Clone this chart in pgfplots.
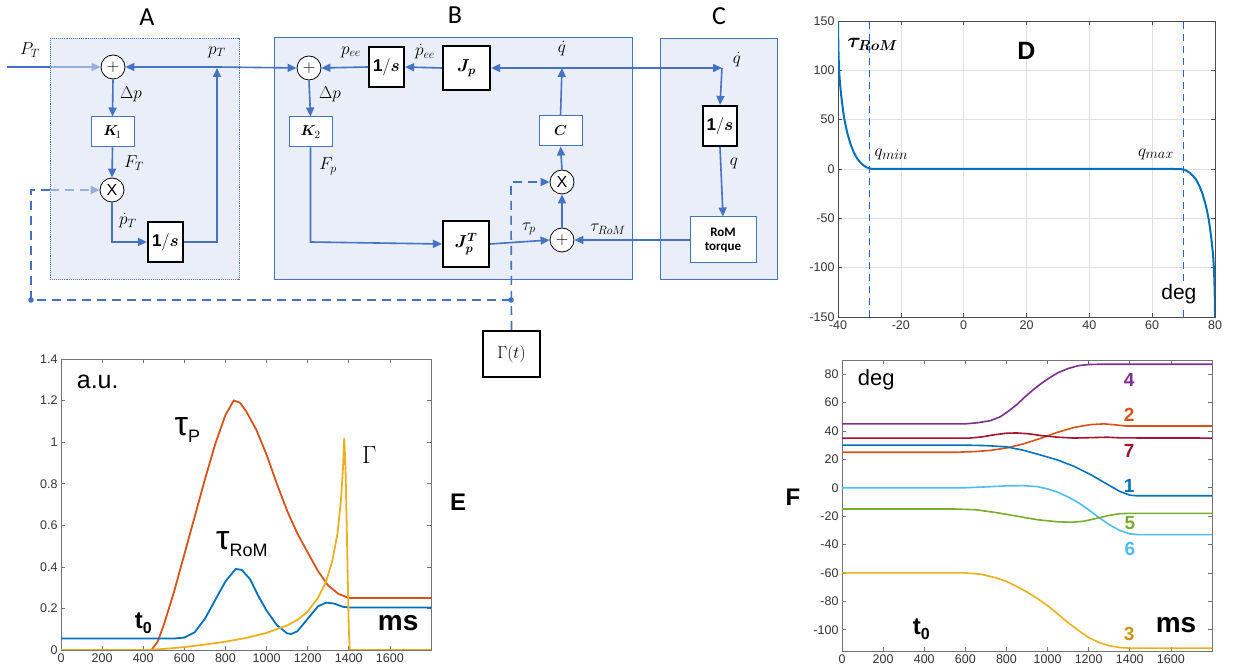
\documentclass[border=0pt]{standalone}
\usepackage{amsmath}
\usepackage{bm}
\usepackage{fontspec}
\setmainfont{Liberation Sans}
\newfontfamily\calib{Carlito}
\usepackage{pgfplots}
\pgfplotsset{compat=1.18}
\usetikzlibrary{arrows.meta}

\newcommand{\fs}[1]{\fontsize{#1}{#1}\selectfont}

\definecolor{dblue}{RGB}{68,114,196}
\definecolor{lblue}{RGB}{150,175,225}
\definecolor{bfill}{RGB}{233,238,248}
\definecolor{mblue}{RGB}{0,114,189}
\definecolor{mred}{RGB}{217,83,25}
\definecolor{myel}{RGB}{237,177,32}
\definecolor{mgold}{RGB}{205,145,20}
\definecolor{mpur}{RGB}{126,47,142}
\definecolor{mgrn}{RGB}{119,172,48}
\definecolor{mcyan}{RGB}{77,190,238}
\definecolor{mdred}{RGB}{162,20,47}
\definecolor{dashblue}{RGB}{40,95,235}

\pgfplotsset{
  mstyle/.style={
    scale only axis, anchor=south west,
    tick align=inside,
    axis line style={black!55, line width=0.6pt},
    tick style={black!55, line width=0.6pt},
    major tick length=4pt,
    tick label style={font=\fs{12.5}, text=black!80},
    /pgf/number format/assume math mode=true,
    /pgf/number format/1000 sep={},
    every axis plot/.append style={line width=1.8pt},
  }
}

\begin{document}
\begin{tikzpicture}[x=1pt,y=1pt,
  ln/.style={dblue, line width=1.6pt},
  arr/.style={ln, -{Triangle[length=9pt,width=8pt]}},
  sumc/.style={circle, draw=black, fill=white, line width=0.8pt, minimum size=24pt, inner sep=0pt, font=\fs{16}},
  tb/.style={draw=dblue, fill=white, line width=1pt, inner sep=0pt, font=\fs{15}},
  kb/.style={draw=black, fill=white, line width=2.2pt, inner sep=0pt, font=\fs{17}},
  ml/.style={font=\fs{17}, inner sep=1pt},
  dsh/.style={ln, dash pattern=on 9pt off 6pt},
]
\useasboundingbox (0,0) rectangle (1236,671);

% ---------------- block diagram (pixel coordinates, y down)
\begin{scope}[x=1pt, y=-1pt, shift={(0pt,671pt)}]
\fill[bfill] (50,38) rectangle (239,279);
\draw[dblue, densely dotted, line width=0.9pt] (50,38) rectangle (239,279);
\fill[bfill] (274,37) rectangle (632,279);
\draw[dblue, line width=0.9pt] (274,37) rectangle (632,279);
\fill[bfill] (660,38) rectangle (777,279);
\draw[dblue, line width=0.9pt] (660,38) rectangle (777,279);

\node[font=\calib\fs{26}] at (147,17) {A};
\node[font=\calib\fs{26}] at (455,15) {B};
\node[font=\calib\fs{26}] at (719,16) {C};

% nodes
\node[sumc] (sA) at (113,67) {$+$};
\node[sumc] (xA) at (112,190) {X};
\node[sumc] (sB) at (309,68) {$+$};
\node[sumc] (xB) at (562,182) {X};
\node[sumc] (sB2) at (562,240) {$+$};

\node[tb, minimum width=43pt, minimum height=30pt] (K1) at (112.5,132) {$\bm{K}_{\!1}$};
\node[kb, minimum width=35pt, minimum height=40pt] (iA) at (165.5,242) {$\mathbf{1}/\bm{s}$};
\node[tb, minimum width=43pt, minimum height=30pt] (K2) at (310.5,132) {$\bm{K}_{2}$};
\node[kb, minimum width=35pt, minimum height=40pt] (iB) at (386.5,67) {$\mathbf{1}/\bm{s}$};
\node[kb, minimum width=47pt, minimum height=44pt] (Jp) at (466.5,68) {$\bm{J_p}$};
\node[tb, minimum width=43pt, minimum height=30pt] (Cb) at (560.5,131) {$\bm{C}$};
\node[kb, minimum width=46pt, minimum height=46pt] (JpT) at (466,244) {$\bm{J_p}^{\bm{T}}$};
\node[kb, minimum width=34pt, minimum height=40pt] (iC) at (720,126) {$\mathbf{1}/\bm{s}$};
\node[tb, minimum width=66pt, minimum height=46pt, align=center, font=\calib\bfseries\fs{13}] (RoM) at (723,240) {RoM\\[1pt]torque};
\node[kb, minimum width=57pt, minimum height=46pt] (G) at (511.5,354) {$\Gamma(t)$};

% block A
\draw[ln] (7,67) -- (50,67);
\draw[lblue, line width=1.6pt, -{Triangle[length=9pt,width=8pt]}] (50,67) -- (sA.west);
\node[ml] at (30,50) {$P_T$};
\draw[arr] (iA.east) -- (217,242) -- (217,68);
\draw[arr] (217,67) -- (sA.east);
\draw[arr] (217,67) -- (sB.west);
\node[ml] at (217,52) {$p_T$};
\draw[arr] (sA.south) -- (K1.north);
\node[ml] at (131,94) {$\Delta p$};
\draw[arr] (K1.south) -- (xA.north);
\node[ml] at (134,163) {$F_T$};
\draw[arr] (xA.south) |- (iA.west);
\node[ml] at (128,221) {$\dot p_T$};

% gating (dashed)
\draw[dsh] (511,300) -- (31,300) -- (31,190) -- (50,190);
\draw[lblue, line width=1.6pt, dash pattern=on 9pt off 6pt, -{Triangle[length=9pt,width=8pt]}] (50,190) -- (xA.west);
\draw[dsh, -{Triangle[length=9pt,width=8pt]}] (G.north) -- (511,182) -- (xB.west);
\fill[dblue] (31,300) circle (2.8);
\fill[dblue] (511,300) circle (2.8);

% block B
\draw[arr] (Jp.west) -- (iB.east);
\node[ml] at (425,52) {$\dot p_{ee}$};
\draw[arr] (iB.west) -- (sB.east);
\node[ml] at (351,52) {$p_{ee}$};
\draw[arr] (sB.south) -- (K2.north);
\node[ml] at (330,94) {$\Delta p$};
\draw[arr] (K2.south) -- (310.5,242) -- (JpT.west);
\node[ml] at (328,166) {$F_p$};
\draw[arr] (JpT.east) -- (sB2.west);
\node[ml] at (529,229) {$\tau_p$};
\draw[arr] (RoM.west) -- (sB2.east);
\node[ml] at (608,229) {$\tau_{RoM}$};
\draw[arr] (sB2.north) -- (xB.south);
\draw[arr] (xB.north) -- (Cb.south);
\draw[arr] (Cb.north) -- (562,68);
\node[ml] at (562,49) {$\dot q$};
\draw[arr] (562,68) -- (Jp.east);
\draw[arr] (562,68) -- (722,68);

% block C
\draw[arr] (722,68) -- (iC.north);
\node[ml] at (737,60) {$\dot q$};
\draw[arr] (iC.south) -- (RoM.north);
\node[ml] at (734,163) {$q$};
\end{scope}

% ---------------- D : RoM torque
\begin{axis}[mstyle, at={(838pt,354pt)}, width=377pt, height=296pt,
  xmin=-40, xmax=80, ymin=-150, ymax=150,
  xtick={-40,-20,0,20,40,60,80}, ytick={-150,-100,-50,0,50,100,150},
  grid=major, grid style={black!12, line width=0.6pt},
  axis line style={black!70, line width=0.7pt}, tick style={black!70},
]
\addplot[dashblue, line width=1.4pt, dash pattern=on 7pt off 5pt] coordinates {(-30,-150) (-30,150)};
\addplot[dashblue, line width=1.4pt, dash pattern=on 7pt off 5pt] coordinates {(70,-150) (70,150)};
\addplot[mblue, line width=2pt] coordinates {
 (-40,150) (-39.9,125) (-39.7,103) (-39.4,88) (-39,75) (-38.5,62) (-38,51)
 (-37.5,43) (-37,36) (-36,25) (-35,17) (-34,11) (-33,7) (-32,4) (-31,1.8)
 (-30,0.6) (-29,0.1) (-27,0) (67,0) (69,-0.1) (70,-0.6) (71,-1.8) (72,-4)
 (73,-7) (74,-11) (75,-17) (76,-25) (77,-36) (77.5,-43) (78,-51) (78.5,-62)
 (79,-75) (79.4,-88) (79.7,-103) (79.9,-125) (80,-150)};
\node[font=\fs{20}] at (axis cs:-29,126) {$\bm{\tau_{RoM}}$};
\node[font=\bfseries\fs{25}] at (axis cs:20,120) {D};
\node[font=\fs{19}, anchor=west] at (axis cs:-29.5,15) {$q_{min}$};
\node[font=\fs{19}, anchor=east] at (axis cs:68,15) {$q_{max}$};
\node[font=\fs{21}, fill=white, inner sep=0.5pt] at (axis cs:68.5,-127) {deg};
\end{axis}

% ---------------- E : torques and gating
\begin{axis}[mstyle, at={(61pt,21pt)}, width=370pt, height=291pt,
  xmin=0, xmax=1800, ymin=0, ymax=1.4,
  xtick={0,200,400,600,800,1000,1200,1400,1600},
  ytick={0,0.2,0.4,0.6,0.8,1,1.2,1.4},
]
\addplot[mred] coordinates {
 (0,0) (440,0) (470,0.04) (500,0.12) (550,0.28) (600,0.46) (650,0.64)
 (700,0.82) (750,0.99) (800,1.13) (840,1.2) (870,1.19) (900,1.15) (950,1.06)
 (1000,0.94) (1050,0.8) (1100,0.67) (1150,0.56) (1200,0.47) (1250,0.38)
 (1300,0.31) (1350,0.27) (1400,0.25) (1800,0.25)};
\addplot[mblue] coordinates {
 (0,0.055) (550,0.055) (600,0.06) (650,0.085) (700,0.15) (750,0.24) (800,0.33)
 (850,0.39) (880,0.385) (920,0.34) (960,0.26) (1000,0.19) (1050,0.12)
 (1100,0.08) (1120,0.077) (1150,0.09) (1200,0.15) (1250,0.21) (1290,0.228)
 (1330,0.223) (1370,0.208) (1410,0.204) (1800,0.204)};
\addplot[myel] coordinates {
 (0,0) (420,0) (500,0.005) (600,0.014) (700,0.026) (800,0.04) (900,0.058)
 (1000,0.082) (1100,0.118) (1150,0.145) (1200,0.185) (1250,0.25) (1290,0.33)
 (1320,0.43) (1345,0.56) (1362,0.72) (1372,0.88) (1378,1.02) (1384,0.88)
 (1392,0.5) (1400,0.1) (1405,0) (1800,0)};
\node[anchor=west, font=\fs{25}] at (axis cs:60,1.29) {a.u.};
\node[font=\fs{34}] at (axis cs:615,1.06) {τ\raisebox{-7pt}{\fs{18}P}};
\node[font=\fs{34}] at (axis cs:880,0.51) {τ\raisebox{-7pt}{\fs{18}RoM}};
\node[font=\fs{36}] at (axis cs:1500,0.94) {$\Gamma$};
\node[font=\bfseries\fs{24}] at (axis cs:400,0.13) {t\raisebox{-5pt}{\fs{16}0}};
\node[font=\bfseries\fs{28}] at (axis cs:1640,0.13) {ms};
\end{axis}
\node[font=\bfseries\fs{24}] at (458,169) {E};

% ---------------- F : joint angles
\begin{axis}[mstyle, at={(842pt,20pt)}, width=370pt, height=291pt,
  xmin=0, xmax=1800, ymin=-115, ymax=90,
  xtick={0,200,400,600,800,1000,1200,1400,1600},
  ytick={-100,-80,-60,-40,-20,0,20,40,60,80},
  every axis plot/.append style={line width=1.6pt},
]
\addplot[mpur] coordinates {
 (0,45) (600,45) (660,45.8) (720,47.2) (770,50) (810,54) (850,58.5) (890,64)
 (930,69) (970,73.5) (1010,77.5) (1050,81) (1100,84) (1150,86) (1200,86.8)
 (1250,87) (1800,87)};
\addplot[mred] coordinates {
 (0,25) (550,25) (650,25.5) (720,26.3) (800,28) (885,31) (970,35) (1047,39)
 (1130,42.5) (1210,44.5) (1275,45) (1330,44.3) (1380,43.5) (1800,43.5)};
\addplot[mdred] coordinates {
 (0,35) (620,35) (680,35.8) (740,37.3) (800,38.4) (850,38.6) (910,38)
 (966,36.8) (1050,35.6) (1129,35) (1210,35.3) (1291,35.6) (1360,35.1) (1800,35)};
\addplot[mblue] coordinates {
 (0,30) (600,30) (700,29.7) (800,28.8) (880,26.5) (960,23.3) (1050,19.5)
 (1130,15) (1210,9.2) (1290,2.5) (1350,-2.5) (1400,-5.2) (1430,-5.6) (1800,-5.6)};
\addplot[mcyan] coordinates {
 (0,0) (600,0) (700,0.6) (800,1.3) (880,1.5) (950,0.8) (1000,-0.8) (1050,-3.2)
 (1100,-6.5) (1150,-10.5) (1200,-15.5) (1250,-21) (1300,-26) (1350,-30)
 (1400,-32.5) (1440,-33) (1800,-33)};
\addplot[mgrn] coordinates {
 (0,-15) (550,-15) (650,-15.5) (750,-17.5) (850,-20) (950,-22.5) (1050,-24)
 (1120,-24.3) (1180,-23.5) (1240,-21.5) (1300,-19.5) (1350,-18.3) (1400,-18)
 (1800,-18)};
\addplot[myel] coordinates {
 (0,-60) (600,-60) (680,-61) (750,-63.5) (800,-66) (850,-69.5) (900,-73.5)
 (950,-78) (1000,-83) (1050,-89) (1100,-95) (1150,-100.5) (1200,-105.5)
 (1250,-109) (1300,-111.3) (1350,-112.5) (1400,-113) (1800,-113)};
\node[font=\fs{22}, anchor=west] at (axis cs:60,76) {deg};
\node[font=\bfseries\fs{24}] at (axis cs:386,-100) {t\raisebox{-5pt}{\fs{16}0}};
\node[font=\bfseries\fs{28}] at (axis cs:1625,-97) {ms};
\node[font=\bfseries\fs{19}, text=mpur] at (axis cs:1397,76) {4};
\node[font=\bfseries\fs{19}, text=mred] at (axis cs:1397,51) {2};
\node[font=\bfseries\fs{19}, text=mdred] at (axis cs:1397,26) {7};
\node[font=\bfseries\fs{19}, text=mblue] at (axis cs:1397,1.5) {1};
\node[font=\bfseries\fs{19}, text=mgrn] at (axis cs:1400,-25) {5};
\node[font=\bfseries\fs{19}, text=mcyan] at (axis cs:1400,-43) {6};
\node[font=\bfseries\fs{19}, text=mgold] at (axis cs:1397,-103) {3};
\end{axis}
\node[font=\bfseries\fs{24}] at (793,174) {F};
\end{tikzpicture}
\end{document}
